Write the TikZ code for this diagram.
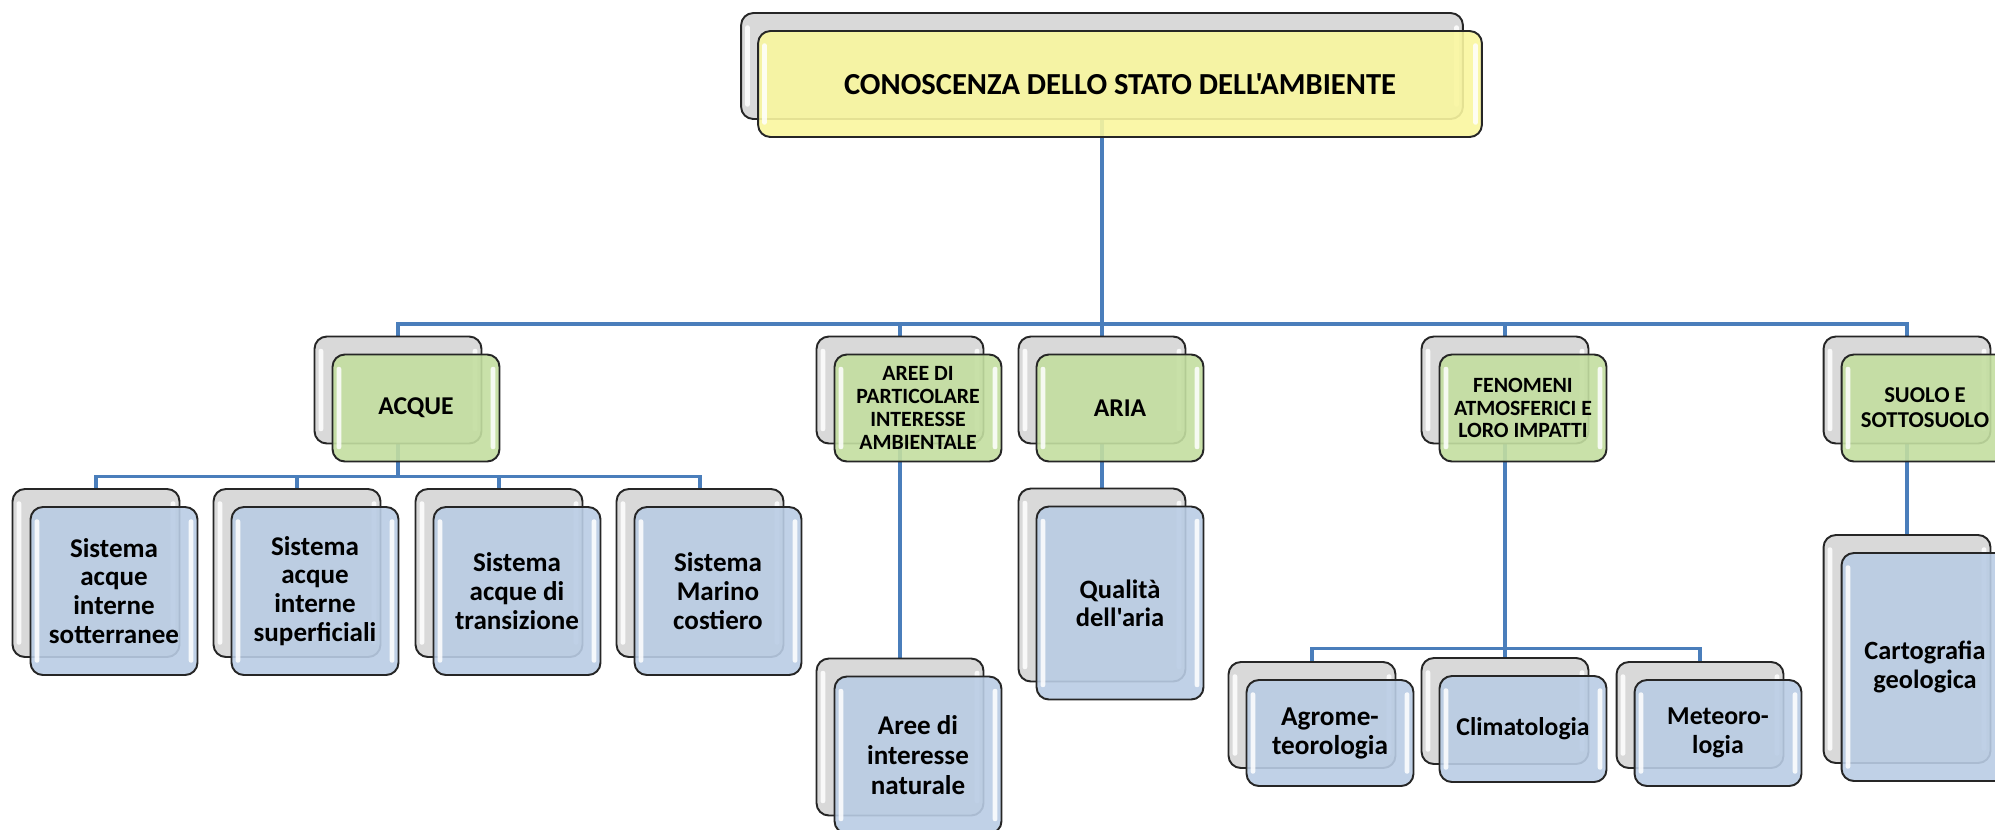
\documentclass[tikz,border=0pt]{standalone}
\usepackage{fontspec}
\setmainfont{Carlito}[Ligatures=TeXOff]
\usetikzlibrary{backgrounds}

\definecolor{boxline}{HTML}{262626}
\definecolor{backgray}{HTML}{D9D9D9}
\definecolor{rootyellow}{HTML}{F9F69F}
\definecolor{areagreen}{HTML}{C3DEA0}
\definecolor{leafblue}{HTML}{B9CCE4}
\definecolor{linkblue}{HTML}{4A7EBB}

\tikzset{
  gloss/.style={path picture={
      \fill[white,opacity=.85,rounded corners=1.2pt]
        ([xshift=2.3pt,yshift=-7pt]path picture bounding box.north west) rectangle
        ([xshift=5pt,yshift=7pt]path picture bounding box.south west);
      \fill[white,opacity=.85,rounded corners=1.2pt]
        ([xshift=-5pt,yshift=-7pt]path picture bounding box.north east) rectangle
        ([xshift=-2.3pt,yshift=7pt]path picture bounding box.south east);}},
  box/.style={draw=boxline, line width=1.1pt, rounded corners=7pt,
    inner sep=0pt, outer sep=0pt, align=center, gloss},
  backbox/.style={box, fill=backgray},
  rootbox/.style={box, fill=rootyellow, fill opacity=.9, text opacity=1},
  areabox/.style={box, fill=areagreen, fill opacity=.9, text opacity=1},
  leafbox/.style={box, fill=leafblue, fill opacity=.9, text opacity=1},
  link/.style={draw=linkblue, line width=2.1pt},
  lvtwo/.style={minimum width=3.34cm, minimum height=2.14cm},
  big/.style={font=\bfseries\fontsize{14.6}{17}\selectfont},
  small/.style={font=\bfseries\fontsize{12.4}{13}\selectfont},
  sys/.style={font=\bfseries\fontsize{15.4}{16.4}\selectfont},
}

\begin{document}
\begin{tikzpicture}[x=0.02cm, y=-0.02cm]
  \useasboundingbox (0,0) rectangle (1995,829);
  \clip (0,0) rectangle (1995,829);

  % root
  \node[backbox, minimum width=14.44cm, minimum height=2.12cm] (rootB) at (1102,66) {};
  \node[rootbox, minimum width=14.48cm, minimum height=2.12cm,
    font=\bfseries\fontsize{17.4}{20}\selectfont] (root) at ([shift={(18,18)}]rootB)
    {CONOSCENZA DELLO STATO DELL'AMBIENTE};

  % second level
  \node[backbox, lvtwo] (acqueB) at (398,390) {};
  \node[areabox, lvtwo, big] (acque) at ([shift={(18,18)}]acqueB) {ACQUE};
  \node[backbox, lvtwo] (areeB) at (900,390) {};
  \node[areabox, lvtwo, small] (aree) at ([shift={(18,18)}]areeB)
    {AREE DI\\PARTICOLARE\\INTERESSE\\AMBIENTALE};
  \node[backbox, lvtwo] (ariaB) at (1102,390) {};
  \node[areabox, lvtwo, big] (aria) at ([shift={(18,18)}]ariaB) {ARIA};
  \node[backbox, lvtwo] (fenB) at (1505,390) {};
  \node[areabox, lvtwo, small] (fen) at ([shift={(18,18)}]fenB)
    {FENOMENI\\ATMOSFERICI E\\LORO IMPATTI};
  \node[backbox, lvtwo] (suoloB) at (1907,390) {};
  \node[areabox, lvtwo, font=\bfseries\fontsize{12.9}{14.2}\selectfont] (suolo)
    at ([shift={(18,18)}]suoloB) {SUOLO E\\SOTTOSUOLO};

  % acque
  \node[backbox, minimum width=3.34cm, minimum height=3.36cm] (s1B) at (96,573) {};
  \node[leafbox, minimum width=3.34cm, minimum height=3.36cm, sys] (s1)
    at ([shift={(18,18)}]s1B) {Sistema\\acque\\interne\\sotterranee};
  \node[backbox, minimum width=3.34cm, minimum height=3.36cm] (s2B) at (297,573) {};
  \node[leafbox, minimum width=3.34cm, minimum height=3.36cm, sys] (s2)
    at ([shift={(18,18)}]s2B) {Sistema\\acque\\interne\\superficiali};
  \node[backbox, minimum width=3.34cm, minimum height=3.36cm] (s3B) at (499,573) {};
  \node[leafbox, minimum width=3.34cm, minimum height=3.36cm, sys] (s3)
    at ([shift={(18,18)}]s3B) {Sistema\\acque di\\transizione};
  \node[backbox, minimum width=3.34cm, minimum height=3.36cm] (s4B) at (700,573) {};
  \node[leafbox, minimum width=3.34cm, minimum height=3.36cm, sys] (s4)
    at ([shift={(18,18)}]s4B) {Sistema\\Marino\\costiero};

  % aree, aria
  \node[backbox, minimum width=3.34cm, minimum height=3.14cm] (natB) at (900,737) {};
  \node[leafbox, minimum width=3.34cm, minimum height=3.14cm,
    font=\bfseries\fontsize{15.4}{17}\selectfont] (nat)
    at ([shift={(18,18)}]natB) {Aree di\\interesse\\naturale};
  \node[backbox, minimum width=3.34cm, minimum height=3.86cm] (qualB) at (1102,585) {};
  \node[leafbox, minimum width=3.34cm, minimum height=3.86cm,
    font=\bfseries\fontsize{15.1}{16}\selectfont] (qual)
    at ([shift={(18,18)}]qualB) {Qualità\\dell'aria};

  % fenomeni
  \node[backbox, minimum width=3.34cm, minimum height=2.12cm] (agroB) at (1312,715) {};
  \node[leafbox, minimum width=3.34cm, minimum height=2.12cm,
    font=\bfseries\fontsize{15.5}{16.5}\selectfont] (agro)
    at ([shift={(18,18)}]agroB) {Agrome-\\teorologia};
  \node[backbox, minimum width=3.34cm, minimum height=2.12cm] (climaB) at (1505,711) {};
  \node[leafbox, minimum width=3.34cm, minimum height=2.12cm,
    font=\bfseries\fontsize{14.6}{16.5}\selectfont] (clima)
    at ([shift={(18,18)}]climaB) {Climatologia};
  \node[backbox, minimum width=3.34cm, minimum height=2.12cm] (meteoB) at (1700,715) {};
  \node[leafbox, minimum width=3.34cm, minimum height=2.12cm,
    font=\bfseries\fontsize{14.7}{16.5}\selectfont] (meteo)
    at ([shift={(18,18)}]meteoB) {Meteoro-\\logia};

  % suolo
  \node[backbox, minimum width=3.34cm, minimum height=4.56cm] (cartoB) at (1907,649) {};
  \node[leafbox, minimum width=3.34cm, minimum height=4.56cm,
    font=\bfseries\fontsize{15}{17}\selectfont] (carto)
    at ([shift={(18,18)}]cartoB) {Cartografia\\geologica};

  \begin{scope}[on background layer]
    \draw[link] (rootB.south) -- ++(0,205) -| (acqueB.north);
    \draw[link] (rootB.south) -- ++(0,205) -| (areeB.north);
    \draw[link] (rootB.south) -- (ariaB.north);
    \draw[link] (rootB.south) -- ++(0,205) -| (fenB.north);
    \draw[link] (rootB.south) -- ++(0,205) -| (suoloB.north);
    \draw[link] (acqueB.south) -- ++(0,33) -| (s1B.north);
    \draw[link] (acqueB.south) -- ++(0,33) -| (s2B.north);
    \draw[link] (acqueB.south) -- ++(0,33) -| (s3B.north);
    \draw[link] (acqueB.south) -- ++(0,33) -| (s4B.north);
    \draw[link] (areeB.south) -- (natB.north);
    \draw[link] (ariaB.south) -- (qualB.north);
    \draw[link] (fenB.south) -- ++(0,205) -| (agroB.north);
    \draw[link] (fenB.south) -- ++(0,205) -| (climaB.north);
    \draw[link] (fenB.south) -- ++(0,205) -| (meteoB.north);
    \draw[link] (suoloB.south) -- (cartoB.north);
  \end{scope}
\end{tikzpicture}
\end{document}
